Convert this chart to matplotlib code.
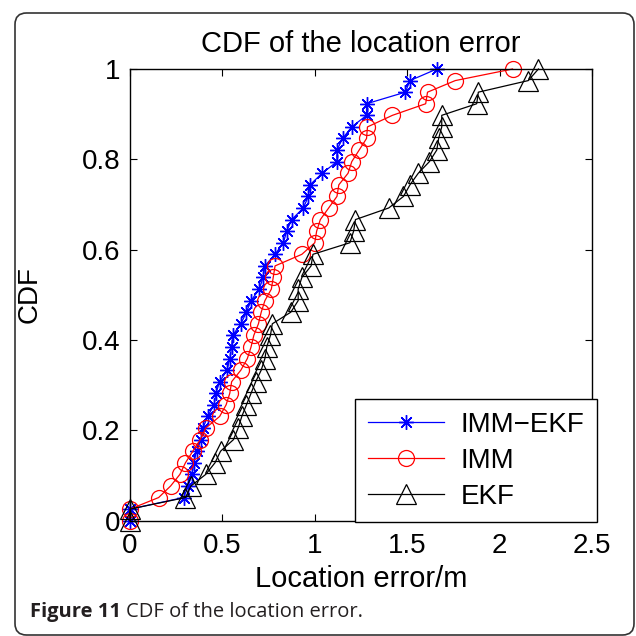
import matplotlib
matplotlib.use("Agg")
import matplotlib.pyplot as plt
from matplotlib.patches import FancyBboxPatch

# CDF levels (40 sorted samples per method)
cdf_levels = [i / 39 for i in range(40)]

# Sorted location errors (m) for each method
err_imm_ekf = [0.00, 0.00, 0.29, 0.315, 0.335, 0.345, 0.36, 0.385, 0.395, 0.42,
               0.455, 0.465, 0.485, 0.525, 0.54, 0.55, 0.555, 0.60, 0.63, 0.655,
               0.70, 0.72, 0.73, 0.785, 0.83, 0.848, 0.875, 0.938, 0.965, 0.974,
               1.04, 1.12, 1.12, 1.15, 1.20, 1.28, 1.28, 1.49, 1.515, 1.66]
err_imm = [0.00, 0.00, 0.155, 0.22, 0.27, 0.30, 0.34, 0.38, 0.41, 0.485,
           0.52, 0.54, 0.55, 0.60, 0.635, 0.655, 0.67, 0.695, 0.71, 0.73,
           0.765, 0.775, 0.785, 0.93, 1.00, 1.01, 1.03, 1.075, 1.12, 1.13,
           1.18, 1.20, 1.24, 1.28, 1.285, 1.42, 1.60, 1.61, 1.76, 2.07]
err_ekf = [0.00, 0.00, 0.30, 0.33, 0.41, 0.46, 0.49, 0.56, 0.585, 0.605,
           0.63, 0.655, 0.68, 0.71, 0.73, 0.74, 0.76, 0.77, 0.87, 0.91,
           0.91, 0.93, 0.98, 0.99, 1.19, 1.21, 1.22, 1.40, 1.48, 1.515,
           1.56, 1.62, 1.66, 1.67, 1.687, 1.687, 1.876, 1.885, 2.155, 2.21]

xticks = [0, 0.5, 1, 1.5, 2, 2.5]
xticklabels = ["0", "0.5", "1", "1.5", "2", "2.5"]
yticks = [0, 0.2, 0.4, 0.6, 0.8, 1]
yticklabels = ["0", "0.2", "0.4", "0.6", "0.8", "1"]

plt.rcParams["font.family"] = ["Liberation Sans", "DejaVu Sans"]

fig = plt.figure(figsize=(6.36, 6.36), dpi=100)
ax = fig.add_axes([0.2044, 0.1813, 0.7264, 0.7102])

ax.plot(err_imm_ekf, cdf_levels, color="#0000ff", lw=0.9,
        marker=(8, 2, 0), ms=10.5, mew=1.0, label="IMM\u2212EKF", clip_on=False)
ax.plot(err_imm, cdf_levels, color="#ff0000", lw=0.9,
        marker="o", ms=11.5, mfc="none", mew=0.9, label="IMM", clip_on=False)
ax.plot(err_ekf, cdf_levels, color="black", lw=0.9,
        marker="^", ms=14, mfc="none", mew=0.9, label="EKF", clip_on=False)

ax.set_xlim(0, 2.5)
ax.set_ylim(0, 1)
ax.set_xticks(xticks)
ax.set_xticklabels(xticklabels)
ax.set_yticks(yticks)
ax.set_yticklabels(yticklabels)
ax.tick_params(direction="in", length=5, width=0.8, top=True, right=True,
               labelsize=20, pad=7)
ax.tick_params(axis="x", pad=9)
for s in ax.spines.values():
    s.set_linewidth(1.0)

ax.set_title("CDF of the location error", fontsize=21, pad=12)
ax.set_xlabel("Location error/m", fontsize=21, labelpad=4)
ax.set_ylabel("CDF", fontsize=20)
ax.yaxis.set_label_coords(-0.19, 0.5)

leg = ax.legend(loc="lower right", bbox_to_anchor=(1.011, -0.003),
                borderaxespad=0, fontsize=20, fancybox=False,
                edgecolor="black", framealpha=1, handlelength=2.75,
                handletextpad=0.6, labelspacing=0.36, borderpad=0.45)
leg.get_frame().set_linewidth(1.0)

# rounded frame around figure + caption
frame = FancyBboxPatch((15 / 636, 1 / 636), 619 / 636, 622 / 636,
                       boxstyle="round,pad=0,rounding_size=0.018",
                       transform=fig.transFigure, fill=False,
                       edgecolor="#333333", lw=1.2)
fig.patches.append(frame)

cap1 = fig.text(30 / 636, 1 - 612 / 636, "Figure 11", fontsize=14.5,
                fontweight="bold", family="Open Sans", color="#231f20",
                va="center")
fig.canvas.draw()
bb = cap1.get_window_extent()
fig.text(bb.x1 / 636 + 0.008, 1 - 612 / 636, "CDF of the location error.",
         fontsize=14.5, family="Open Sans", color="#231f20", va="center")

fig.savefig("out.png", dpi=100)
